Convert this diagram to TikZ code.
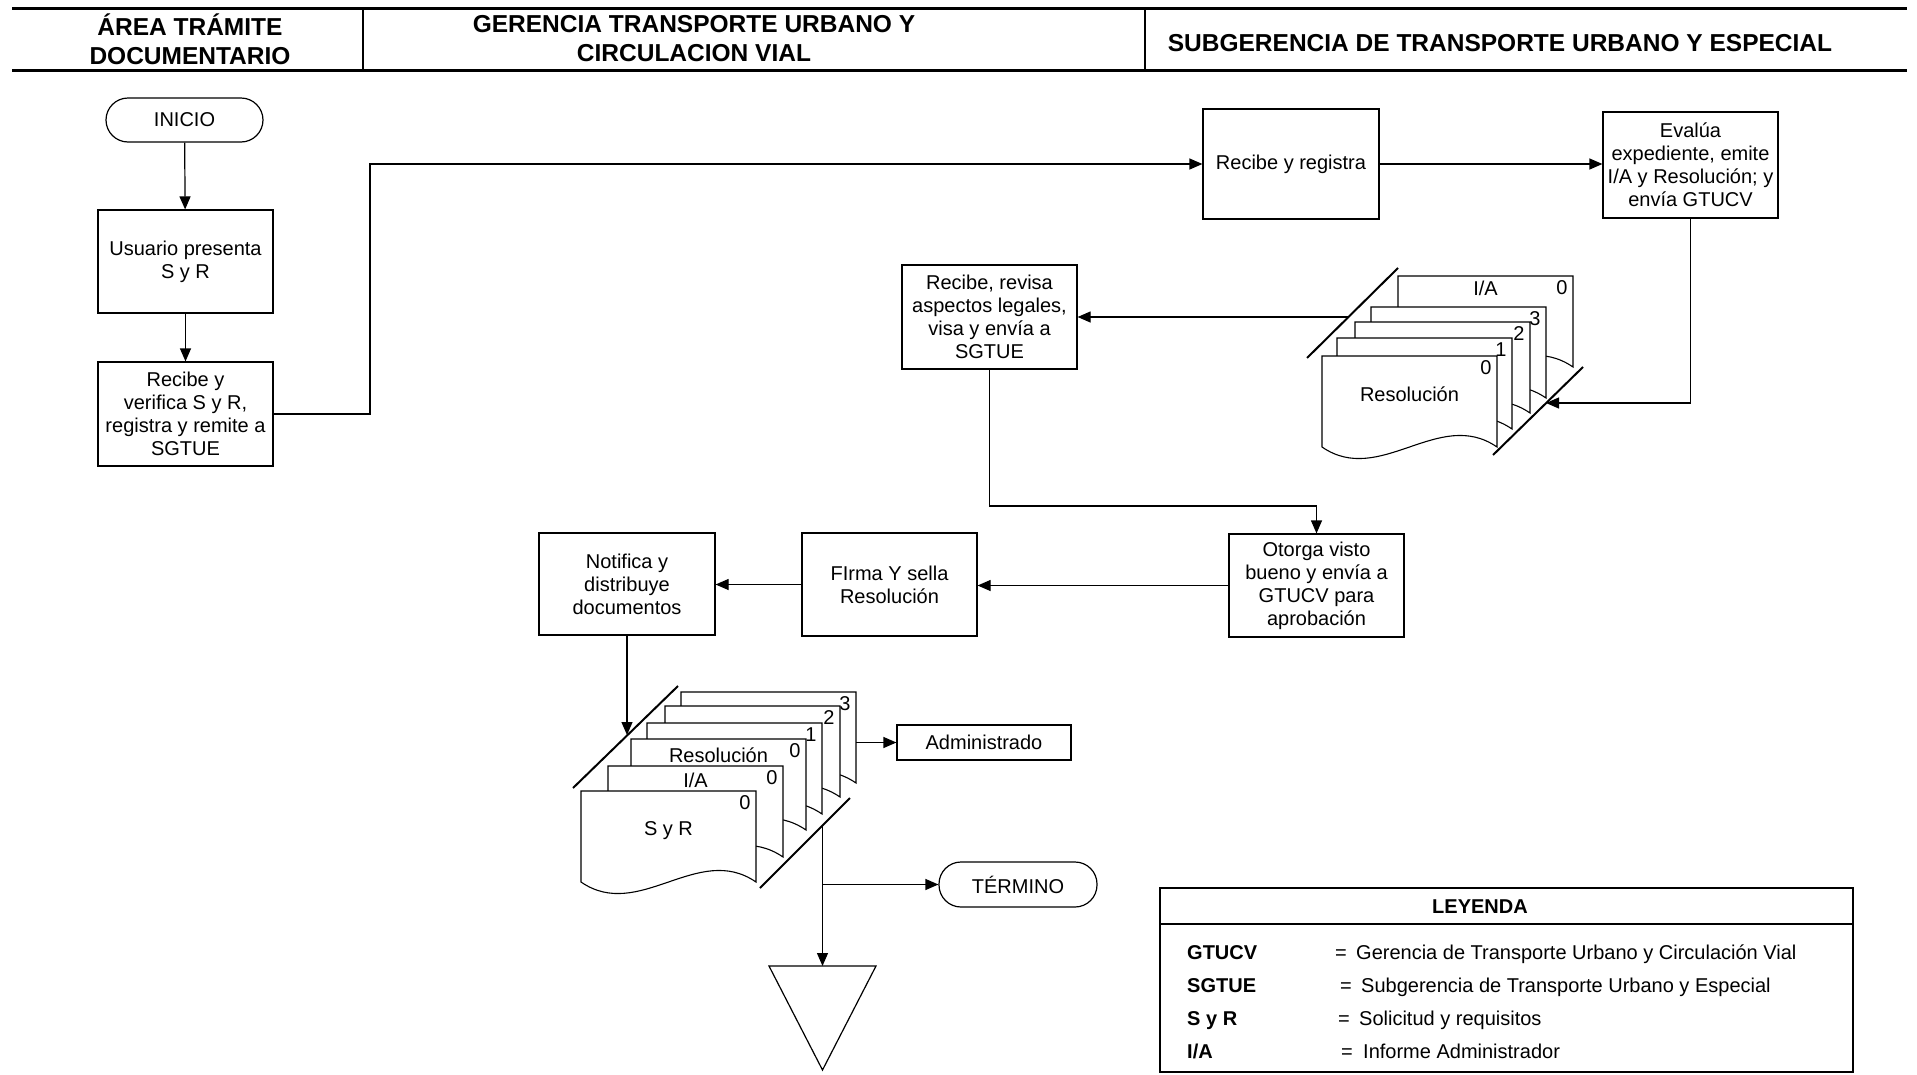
\documentclass[tikz,border=0pt]{standalone}
\usepackage{fontspec}
\setmainfont{Liberation Sans}
\usetikzlibrary{arrows.meta}
\newcommand{\fsb}{\fontsize{20}{23}\selectfont}
\newcommand{\fsh}{\fontsize{24.5}{29}\selectfont\bfseries}
% #1 x, #2 y (top-left), #3 digit, #4 name, #5 label, #6 label y offset
\newcommand{\docsheet}[6]{%
  \begin{scope}[shift={(#1,#2)}]
    \draw[docline] (0,0) -- (175,0) -- (175,91) .. controls (117,51) and (58,131) .. (0,91) -- cycle;
    \node[txt] (#4-d) at (164,12) {#3};
    \node[txt] (#4-l) at (87.5,#6) {#5};
  \end{scope}}
\begin{document}
\begin{tikzpicture}[x=1pt,y=-1pt,
  ln/.style={line width=1.2pt},
  arr/.style={ln,-{Triangle[length=13pt,width=11pt]}},
  box/.style={draw,line width=1.2pt,minimum width=175pt,minimum height=104pt,align=center,inner sep=0pt,font=\fsb},
  term/.style={draw,line width=1.2pt,rounded corners=22pt,minimum width=157pt,minimum height=44pt,inner sep=0pt,font=\fsb},
  txt/.style={inner sep=0pt,font=\fsb},
  hdr/.style={inner sep=0pt,align=center,font=\fsh},
  slant/.style={line width=2pt},
  docline/.style={line width=1.1pt,fill=white},
  leg/.style={inner sep=0pt,font=\fsb,anchor=base west},
  legb/.style={inner sep=0pt,font=\fsb\bfseries,anchor=base west},
]
\useasboundingbox (0,0) rectangle (1917,1074);
% header
\draw[line width=3pt] (12,8) -- (1907,8);
\draw[line width=3pt] (12,70) -- (1907,70);
\draw[line width=2pt] (363,8) -- (363,70);
\draw[line width=2pt] (1145,8) -- (1145,70);
\node[hdr] (h1) at (190,39) {ÁREA TRÁMITE\\DOCUMENTARIO};
\node[hdr] (h2) at (694,39) {GERENCIA TRANSPORTE URBANO Y\\CIRCULACION VIAL};
\node[hdr] (h3) at (1500,43) {SUBGERENCIA DE TRANSPORTE URBANO Y ESPECIAL};

% process nodes
\node[term] (inicio) at (184.5,120) {INICIO};
\node[box,minimum height=103pt] (usuario) at (185.5,261.5) {Usuario presenta\\S y R};
\node[box] (recibe) at (185.5,414) {Recibe y\\verifica S y R,\\registra y remite a\\SGTUE};
\node[box,minimum width=176pt,minimum height=110pt] (registra) at (1291,164) {Recibe y registra};
\node[box,minimum height=106pt] (evalua) at (1690.5,165) {Evalúa\\expediente, emite\\I/A y Resolución; y\\envía GTUCV};
\node[box] (revisa) at (989.5,317) {Recibe, revisa\\aspectos legales,\\visa y envía a\\SGTUE};
\node[box,minimum height=103pt] (otorga) at (1316.5,585.5) {Otorga visto\\bueno y envía a\\GTUCV para\\aprobación};
\node[box,minimum height=103pt] (firma) at (889.5,584.5) {FIrma Y sella\\Resolución};
\node[box,minimum width=176pt,minimum height=102pt] (notifica) at (627,584) {Notifica y\\distribuye\\documentos};
\node[box,minimum width=174pt,minimum height=35pt] (admin) at (984,742.5) {Administrado};
\node[term,minimum width=158pt,minimum height=45pt] (termino) at (1018,884.5) {TÉRMINO};

% document stack 1
\docsheet{1398}{276}{0}{a1}{I/A}{12}
\docsheet{1371}{307}{3}{a2}{}{12}
\docsheet{1355}{322}{2}{a3}{}{12}
\docsheet{1337}{338}{1}{a4}{}{12}
\docsheet{1322}{356}{0}{a5}{Resolución}{38}
\draw[slant] (1307,358) -- (1398,268);
\draw[slant] (1493,455) -- (1583,367);
\coordinate (s1in) at (1546,403);
\coordinate (s1out) at (1348,317);

% document stack 2
\docsheet{681}{692}{3}{b1}{}{12}
\docsheet{665}{706}{2}{b2}{}{12}
\docsheet{647}{723}{1}{b3}{}{12}
\docsheet{631}{739}{0}{b4}{Resolución}{16}
\docsheet{608}{766}{0}{b5}{I/A}{14}
\docsheet{581}{791}{0}{b6}{S y R}{40}
\draw[slant] (573,788) -- (678,686);
\draw[slant] (760,888) -- (850,798);
\coordinate (s2in) at (627,735);
\coordinate (s2out) at (856,742.5);
\coordinate (s2down) at (822.5,825.5);
\coordinate (branch) at (822.5,884.5);
\coordinate (tritop) at (822.5,966);

% triangle (archive)
\draw[ln] (769,966) -- (876,966) -- (822.5,1070) -- cycle;

% corridor helpers
\coordinate (c1) at (370,0);
\coordinate (c2) at (0,506);

% connectors
\draw[arr] (inicio) -- (usuario);
\draw[arr] (usuario) -- (recibe);
\draw[arr] (recibe.east) -| (c1 |- registra.west) -- (registra.west);
\draw[arr] (registra.east) -- (registra.east -| evalua.west);
\draw[arr] (evalua.south) |- (s1in);
\draw[arr] (s1out) -- (s1out -| revisa.east);
\draw[arr] (revisa.south) -- (revisa.south |- c2) -| (otorga.north);
\draw[arr] (otorga.west) -- (otorga.west -| firma.east);
\draw[arr] (firma.west) -- (firma.west -| notifica.east);
\draw[arr] (notifica.south) -- (s2in);
\draw[arr] (s2out) -- (admin.west);
\draw[ln] (s2down) -- (branch);
\draw[arr] (branch) -- (tritop);
\draw[arr] (branch) -- (termino.west);

% legend
\draw[line width=2pt] (1160,888) rectangle (1853,1072);
\draw[line width=2pt] (1160,924) -- (1853,924);
\node[inner sep=0pt,font=\fsb\bfseries] (ley) at (1480,907) {LEYENDA};
\node[legb] (k1) at (1187,959) {GTUCV};
\node[leg] (e1) at (1335,959) {=};
\node[leg] (d1) at (1356,959) {Gerencia de Transporte Urbano y Circulación Vial};
\node[legb] (k2) at (1187,992) {SGTUE};
\node[leg] (e2) at (1340,992) {=};
\node[leg] (d2) at (1361,992) {Subgerencia de Transporte Urbano y Especial};
\node[legb] (k3) at (1187,1025) {S y R};
\node[leg] (e3) at (1338,1025) {=};
\node[leg] (d3) at (1359,1025) {Solicitud y requisitos};
\node[legb] (k4) at (1187,1058) {I/A};
\node[leg] (e4) at (1341,1058) {=};
\node[leg] (d4) at (1363,1058) {Informe Administrador};
\end{tikzpicture}
\end{document}
